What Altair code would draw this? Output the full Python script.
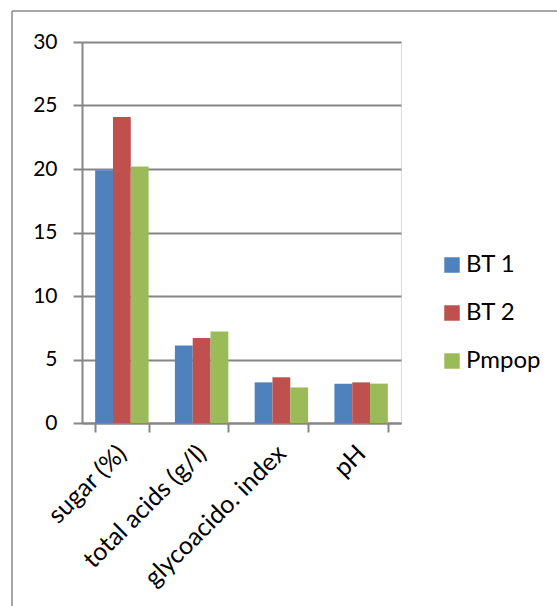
import altair as alt
import pandas as pd

categories = ["sugar (%)", "total acids (g/l)", "glycoacido. index", "pH"]
series = ["BT 1", "BT 2", "Pmpop"]
bt1 = [19.9, 6.1, 3.2, 3.1]
bt2 = [24.1, 6.7, 3.6, 3.2]
pmpop = [20.2, 7.2, 2.8, 3.1]
colors = ["#4F81BD", "#C0504D", "#9BBB59"]

rows = []
for s, vals in zip(series, [bt1, bt2, pmpop]):
    for c, v in zip(categories, vals):
        rows.append({"category": c, "series": s, "value": v})
df = pd.DataFrame(rows)

FONT = "Lato"
GRID = "#868686"

bars = alt.Chart(df).mark_bar().encode(
    x=alt.X("category:N", sort=categories, title=None,
            scale=alt.Scale(paddingInner=0.33, paddingOuter=0.165),
            axis=alt.Axis(labelAngle=-45, labelAlign="right", labelBaseline="middle",
                          labelFontSize=25, labelFont=FONT, labelColor="#000000",
                          labelLimit=0, labelOverlap=False,
                          tickBand="extent", tickSize=9, tickColor=GRID, tickWidth=2,
                          domainColor=GRID, domainWidth=2, labelPadding=17)),
    xOffset=alt.XOffset("series:N", sort=series),
    y=alt.Y("value:Q", title=None,
            scale=alt.Scale(domain=[0, 30]),
            axis=alt.Axis(values=[0, 5, 10, 15, 20, 25, 30], labelFontSize=21, labelFont=FONT,
                          labelColor="#000000", tickSize=9, tickColor=GRID, tickWidth=2,
                          domainColor=GRID, domainWidth=2, gridColor=GRID, gridWidth=2,
                          labelPadding=16)),
    color=alt.Color("series:N", sort=series,
                    scale=alt.Scale(domain=series, range=colors),
                    legend=alt.Legend(title=None, orient="none", legendX=358, legendY=211,
                                      symbolType="square", symbolSize=240, symbolStrokeWidth=0,
                                      labelFontSize=24, labelFont=FONT, labelColor="#000000",
                                      labelOffset=2, rowPadding=24)),
)

border_data = alt.Data(values=[{"a": 1}])
left_border = alt.Chart(border_data).mark_rule(color="#8a8a8a", strokeWidth=1.5).encode(
    x=alt.value(-70), y=alt.value(-31), y2=alt.value(700))
top_border = alt.Chart(border_data).mark_rule(color="#8a8a8a", strokeWidth=1.5).encode(
    x=alt.value(-70), x2=alt.value(700), y=alt.value(-31))

chart = alt.layer(bars, left_border, top_border).properties(
    width=319, height=381,
    padding={"left": 82, "top": 42, "right": 156, "bottom": 183},
    background="#ffffff",
).configure_view(stroke=None).configure(autosize=alt.AutoSizeParams(type="none"))

chart.save("out.html", embed_options={"renderer": "svg", "actions": False})
